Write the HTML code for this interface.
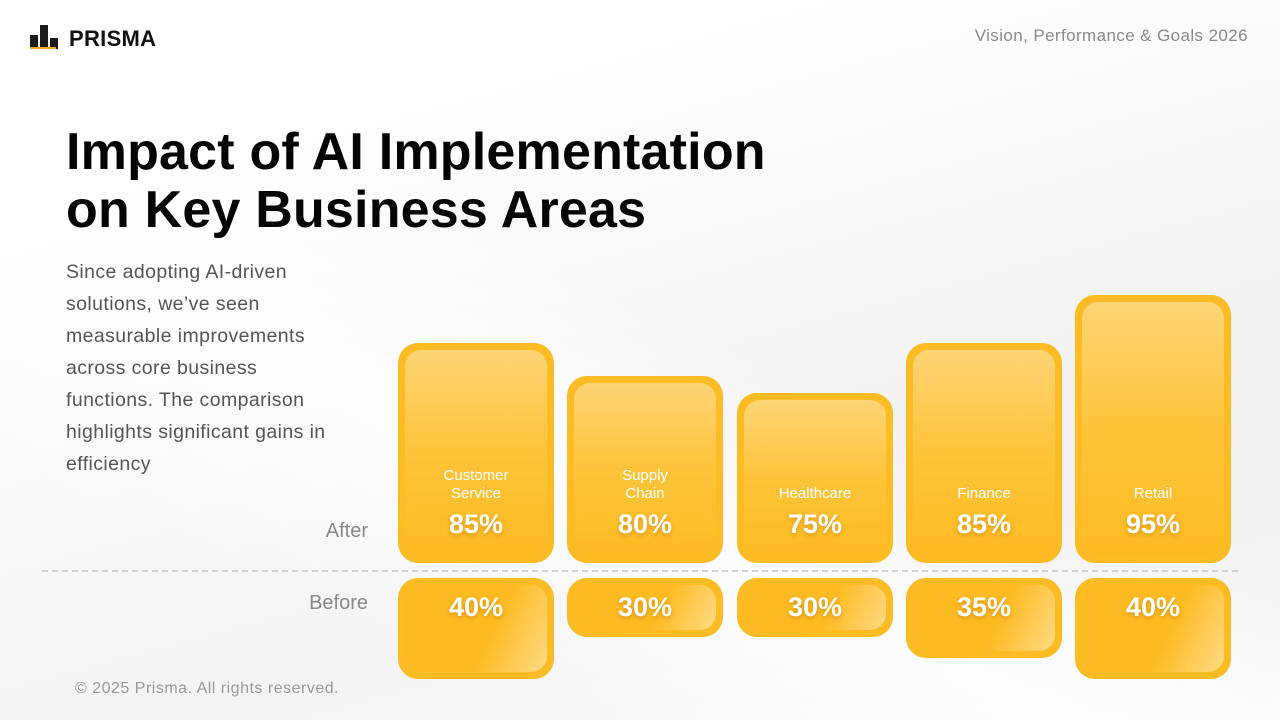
<!DOCTYPE html>
<html><head><meta charset="utf-8"><style>
*{margin:0;padding:0;box-sizing:border-box}
body{width:1280px;height:720px;overflow:hidden;position:relative;font-family:"Liberation Sans",sans-serif;
background:linear-gradient(165deg,#ffffff 0%,#ffffff 20%,#f7f7f7 45%,#f0f0f0 70%,#f8f8f8 100%)}
.bg1{position:absolute;left:0;top:0;width:1280px;height:720px;background:linear-gradient(205deg,rgba(255,255,255,0) 45%,rgba(255,255,255,0.8) 62%,rgba(255,255,255,0.3) 80%)}
.logo{position:absolute;left:30px;top:25px;width:28px;height:24px}
.logo i{position:absolute;background:#1a1a1a}
.brand{position:absolute;left:69px;top:26px;font-weight:bold;font-size:22px;color:#111;letter-spacing:0.3px}
.sub{position:absolute;right:32px;top:26px;font-size:17px;color:#8a8a8a;letter-spacing:0.4px}
h1{position:absolute;left:66px;top:123px;font-size:52px;line-height:58px;font-weight:bold;color:#050505;letter-spacing:0.2px}
.p{position:absolute;left:66px;top:256px;width:320px;font-size:19.5px;line-height:32px;color:#555;letter-spacing:0.4px}
.lab{position:absolute;font-size:20px;color:#888;text-align:right;width:100px}
.dash{position:absolute;left:42px;top:570px;width:1196px;border-top:2px dashed #d2d2d2}
.bar{position:absolute;width:156px;border-radius:20px;background:#fdbb24}
.bar .in{position:absolute;left:7px;right:7px;top:7px;bottom:7px;border-radius:16px;background:linear-gradient(180deg,#fed475 0%,#fdc43a 50%,#fdbb22 100%)}
.bar.b .in{background:linear-gradient(115deg,#fdbb22 0%,#fdbb22 60%,#fedb85 100%)}
.t{position:absolute;left:0;right:0;text-align:center;color:#fff}
.nm{font-size:15px;line-height:18px}
.pc{font-size:27px;font-weight:bold;text-shadow:0 2px 4px rgba(150,90,0,0.35)}
.foot{position:absolute;left:75px;top:680px;font-size:16px;color:#999;letter-spacing:0.5px}
</style></head><body>
<div class="bg1"></div>
<div class="logo"><i style="left:0;top:10px;width:8px;height:14px"></i><i style="left:10px;top:0;width:8px;height:24px"></i><i style="left:20px;top:13px;width:8px;height:11px"></i>
<div style="position:absolute;left:0;top:22px;width:26px;height:2px;background:#f5a623"></div></div>
<div class="brand">PRISMA</div>
<div class="sub">Vision, Performance &amp; Goals 2026</div>
<h1>Impact of AI Implementation<br>on Key Business Areas</h1>
<div class="p">Since adopting AI-driven<br>solutions, we’ve seen<br>measurable improvements<br>across core business<br>functions. The comparison<br>highlights significant gains in<br>efficiency</div>
<div class="lab" style="left:268px;top:520px">After</div>
<div class="lab" style="left:268px;top:592px">Before</div>
<div class="dash"></div>

<div class="bar" style="left:398px;top:343px;height:220px"><div class="in"></div><div class="t nm" style="top:124px">Customer<br>Service</div><div class="t pc" style="top:166px">85%</div></div>
<div class="bar" style="left:567px;top:376px;height:187px"><div class="in"></div><div class="t nm" style="top:91px">Supply<br>Chain</div><div class="t pc" style="top:133px">80%</div></div>
<div class="bar" style="left:737px;top:393px;height:170px"><div class="in"></div><div class="t nm" style="top:92px">Healthcare</div><div class="t pc" style="top:116px">75%</div></div>
<div class="bar" style="left:906px;top:343px;height:220px"><div class="in"></div><div class="t nm" style="top:142px">Finance</div><div class="t pc" style="top:166px">85%</div></div>
<div class="bar" style="left:1075px;top:295px;height:268px"><div class="in"></div><div class="t nm" style="top:190px">Retail</div><div class="t pc" style="top:214px">95%</div></div>

<div class="bar b" style="left:398px;top:578px;height:101px"><div class="in"></div><div class="t pc" style="top:14px">40%</div></div>
<div class="bar b" style="left:567px;top:578px;height:59px"><div class="in"></div><div class="t pc" style="top:14px">30%</div></div>
<div class="bar b" style="left:737px;top:578px;height:59px"><div class="in"></div><div class="t pc" style="top:14px">30%</div></div>
<div class="bar b" style="left:906px;top:578px;height:80px"><div class="in"></div><div class="t pc" style="top:14px">35%</div></div>
<div class="bar b" style="left:1075px;top:578px;height:101px"><div class="in"></div><div class="t pc" style="top:14px">40%</div></div>

<div class="foot">© 2025 Prisma. All rights reserved.</div>
</body></html>
